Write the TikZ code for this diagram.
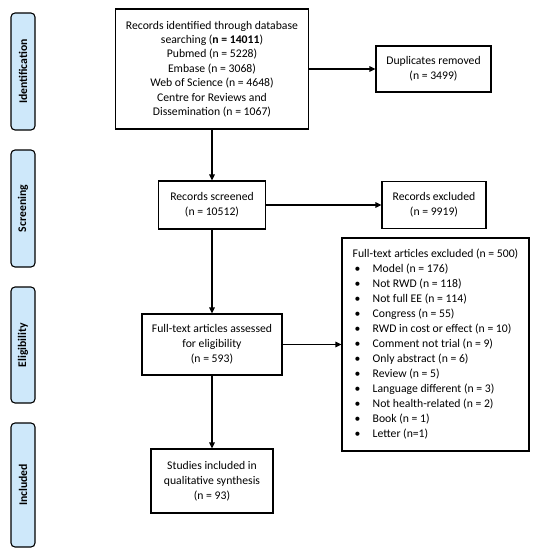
\documentclass[tikz,border=0pt]{standalone}
\usepackage{fontspec}
\setmainfont{Carlito}
\usetikzlibrary{arrows.meta}
\definecolor{stagefill}{RGB}{206,232,250}
\newcommand{\exitem}{\hspace*{2pt}\makebox[18pt][l]{\textbullet}}

\begin{document}
\begin{tikzpicture}[x=1pt,y=-1pt,
    every node/.append style={font=\fontsize{11.7}{15}\selectfont},
    flowbox/.style={draw,line width=1.1pt,inner sep=0pt,align=center},
    stagebox/.style={draw,line width=1.1pt,fill=stagefill,rounded corners=4pt,
        rotate=90,minimum height=24pt,inner sep=0pt,
        font=\fontsize{11.7}{15}\selectfont\bfseries},
    flowarrow/.style={line width=1.1pt,-{Triangle[length=6pt,width=5.5pt]}}
    ]
  \useasboundingbox (0,0) rectangle (538,550);

  % Stage bars
  \node[stagebox,minimum width=117pt] (ident) at (23,71.5) {Identification};
  \node[stagebox,minimum width=117pt] (screen) at (23,208.5) {Screening};
  \node[stagebox,minimum width=116pt] (elig) at (23,345) {Eligibility};
  \node[stagebox,minimum width=124pt] (incl) at (23,485) {Included};

  % Identification
  \node[flowbox,minimum width=193pt,minimum height=120pt,
        font=\fontsize{11.7}{14.4}\selectfont] (found) at (212,69)
    {Records identified through database\\
     searching (\textbf{n = 14011})\\
     Pubmed (n = 5228)\\
     Embase (n = 3068)\\
     Web of Science (n = 4648)\\
     Centre for Reviews and\\
     Dissemination (n = 1067)};
  \node[flowbox,minimum width=115pt,minimum height=46pt] (dupes) at (433.5,69)
    {Duplicates removed\\ (n = 3499)};

  % Screening
  \node[flowbox,minimum width=107pt,minimum height=48pt] (screened) at (212,205)
    {Records screened\\ (n = 10512)};
  \node[flowbox,minimum width=104pt,minimum height=47pt] (excluded) at (434,205)
    {Records excluded\\ (n = 9919)};

  % Eligibility
  \node[flowbox,minimum width=140pt,minimum height=61pt] (assessed) at (212,344.5)
    {Full-text articles assessed\\ for eligibility\\ (n = 593)};
  \node[flowbox,align=left,minimum width=187pt,
        minimum height=213pt] (ftexcl) at (435.5,344.5)
    {Full-text articles excluded (n = 500)\\
     \exitem Model (n = 176)\\
     \exitem Not RWD (n = 118)\\
     \exitem Not full EE (n = 114)\\
     \exitem Congress (n = 55)\\
     \exitem RWD in cost or effect (n = 10)\\
     \exitem Comment not trial (n = 9)\\
     \exitem Only abstract (n = 6)\\
     \exitem Review (n = 5)\\
     \exitem Language different (n = 3)\\
     \exitem Not health-related (n = 2)\\
     \exitem Book (n = 1)\\
     \exitem Letter (n=1)};

  % Included
  \node[flowbox,minimum width=122pt,minimum height=64pt] (studies) at (212,481)
    {Studies included in\\ qualitative synthesis\\ (n = 93)};

  % Arrows
  \draw[flowarrow] (found) -- (dupes);
  \draw[flowarrow] (found) -- (screened);
  \draw[flowarrow] (screened) -- (excluded);
  \draw[flowarrow] (screened) -- (assessed);
  \draw[flowarrow] (assessed) -- (ftexcl);
  \draw[flowarrow] (assessed) -- (studies);
\end{tikzpicture}
\end{document}
